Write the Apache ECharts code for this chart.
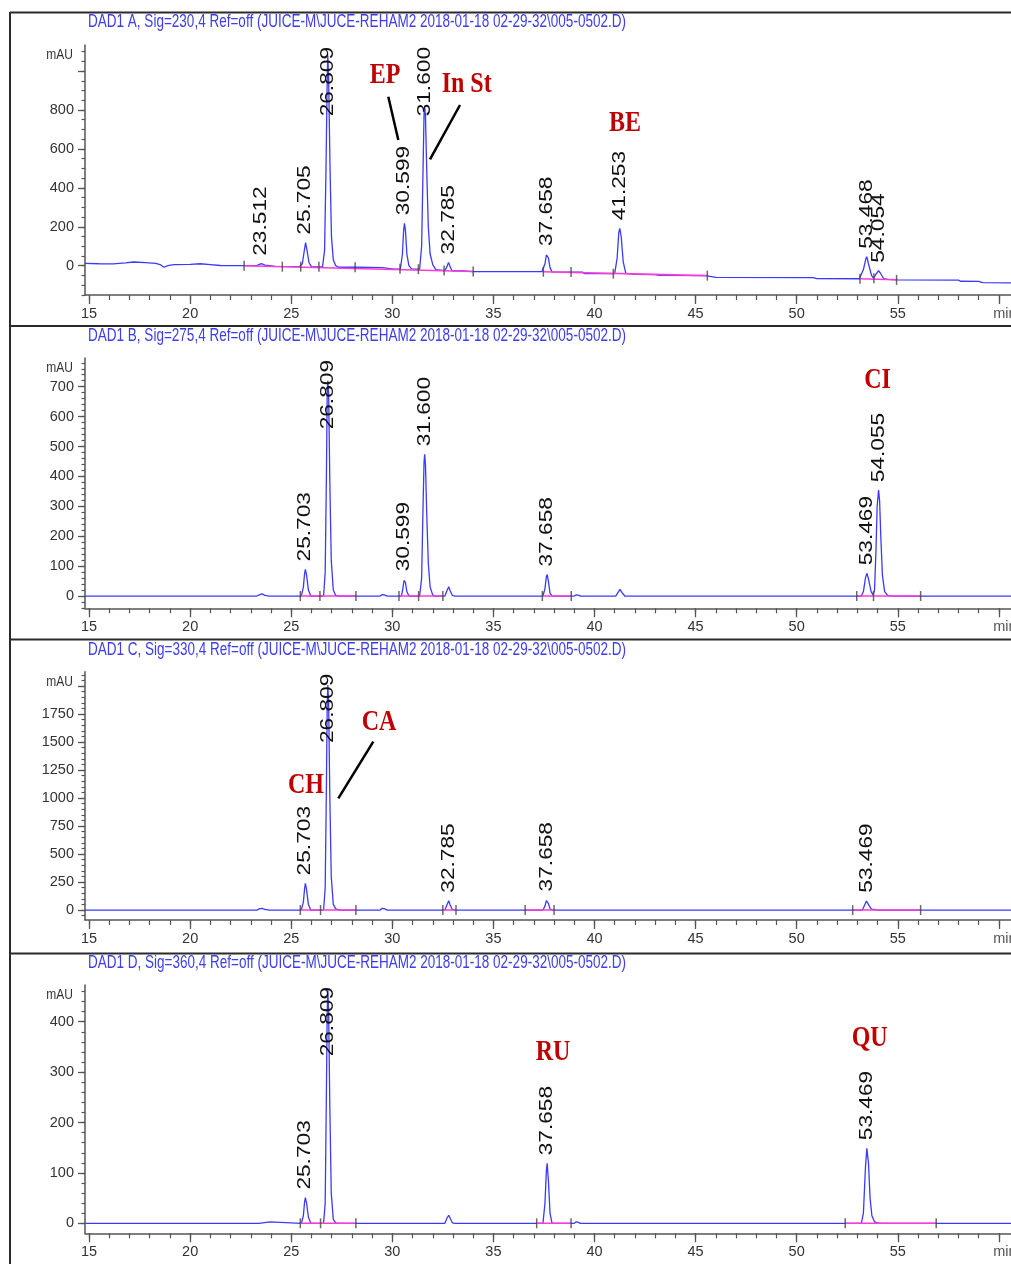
<!DOCTYPE html>
<html><head><meta charset="utf-8">
<script src="https://cdn.jsdelivr.net/npm/echarts@6/dist/echarts.min.js"></script>
<style>html,body{margin:0;padding:0;background:#fff;overflow:hidden}#c{width:1011px;height:1264px}</style>
</head><body><div id="c"></div>
<script>
// ---------------- DATA ----------------
const panelTitles = [
  'DAD1 A, Sig=230,4 Ref=off (JUICE-M\\JUCE-REHAM2 2018-01-18 02-29-32\\005-0502.D)',
  'DAD1 B, Sig=275,4 Ref=off (JUICE-M\\JUCE-REHAM2 2018-01-18 02-29-32\\005-0502.D)',
  'DAD1 C, Sig=330,4 Ref=off (JUICE-M\\JUCE-REHAM2 2018-01-18 02-29-32\\005-0502.D)',
  'DAD1 D, Sig=360,4 Ref=off (JUICE-M\\JUCE-REHAM2 2018-01-18 02-29-32\\005-0502.D)'
];
const xTickLabels = [15, 20, 25, 30, 35, 40, 45, 50, 55, 60];
const yLabelsA = [0, 200, 400, 600, 800];
const yLabelsB = [0, 100, 200, 300, 400, 500, 600, 700];
const yLabelsC = [0, 250, 500, 750, 1000, 1250, 1500, 1750];
const yLabelsD = [0, 100, 200, 300, 400];

// time (min), signal (mAU)
const traceA = [
  [14.8,12],[15.5,10],[16.2,9],[16.8,14],[17.2,19],[17.8,16],[18.3,12],[18.55,4],[18.7,-8],[18.9,0],[19.2,5],[20.0,7],[20.5,10],[21.0,6],[21.5,1],[22.5,0],
  [23.3,0],[23.45,8],[23.55,10],[23.7,3],[24.2,-4],[25.4,-5],
  [25.55,10],[25.65,80],[25.71,118],[25.78,80],[25.88,15],[26.0,-5],
  [26.55,-6],[26.65,80],[26.72,500],[26.78,960],[26.81,1080],[26.85,960],[26.92,500],[26.99,150],[27.08,30],[27.2,0],[27.35,-8],
  [28.2,-8],[29.5,-10],[30.1,-18],[30.4,-16],[30.5,60],[30.56,180],[30.6,218],[30.65,180],[30.72,60],[30.82,0],[30.95,-16],
  [31.35,-18],[31.45,100],[31.52,500],[31.57,780],[31.6,817],[31.64,770],[31.7,500],[31.78,200],[31.87,60],[32.0,5],[32.15,-20],
  [32.6,-25],[32.7,-5],[32.78,17],[32.86,-5],[32.95,-26],[33.5,-27],[34.0,-30],
  [37.4,-31],[37.55,10],[37.62,55],[37.66,60],[37.72,40],[37.8,-10],[37.9,-32],
  [39.4,-33],[39.5,-40],[41.0,-41],[41.12,40],[41.2,170],[41.25,192],[41.32,150],[41.42,20],[41.55,-40],
  [42.0,-44],[43.0,-46],[43.2,-50],[45.5,-51],[46.0,-60],[50.8,-61],[51.0,-66],[53.1,-67],
  [53.3,-20],[53.42,35],[53.47,46],[53.55,10],[53.7,-50],[53.8,-64],[53.95,-40],[54.05,-26],[54.15,-40],[54.3,-66],[54.5,-70],
  [55.0,-73],[58.0,-74],[58.1,-80],[59.0,-81],[59.2,-87],[60.6,-88]
];
const traceB = [
  [14.8,0],[23.3,0],[23.45,5],[23.55,7],[23.7,2],[23.9,0],
  [25.5,0],[25.6,30],[25.66,75],[25.7,89],[25.76,70],[25.85,20],[25.97,0],
  [26.6,0],[26.68,80],[26.74,400],[26.78,680],[26.81,720],[26.85,680],[26.91,380],[26.98,120],[27.08,20],[27.2,2],[27.35,0],
  [29.4,0],[29.5,5],[29.6,4],[29.75,0],
  [30.45,0],[30.52,25],[30.58,52],[30.6,56],[30.65,45],[30.72,15],[30.82,0],
  [31.35,0],[31.45,60],[31.52,300],[31.57,450],[31.6,474],[31.64,440],[31.7,280],[31.78,110],[31.87,30],[32.0,3],[32.1,0],
  [32.6,0],[32.7,18],[32.79,31],[32.86,18],[32.97,2],[33.1,0],
  [37.45,0],[37.55,25],[37.62,65],[37.66,72],[37.72,50],[37.8,10],[37.9,0],
  [39.0,0],[39.1,4],[39.2,3],[39.3,0],
  [41.05,0],[41.18,14],[41.26,22],[41.35,12],[41.5,0],
  [53.2,0],[53.3,15],[53.4,60],[53.47,76],[53.55,58],[53.68,15],[53.78,4],[53.85,20],[53.92,150],[53.98,300],[54.05,354],[54.1,320],[54.16,200],[54.24,70],[54.35,15],[54.5,2],[54.7,0],
  [60.6,0]
];
const traceC = [
  [14.8,0],[23.3,0],[23.45,12],[23.55,15],[23.7,5],[23.9,0],
  [25.5,0],[25.6,70],[25.66,190],[25.7,238],[25.76,180],[25.85,50],[25.97,0],
  [26.6,0],[26.68,200],[26.74,1100],[26.78,1850],[26.81,2010],[26.85,1850],[26.91,1000],[26.98,300],[27.08,50],[27.2,10],[27.4,0],
  [29.4,0],[29.5,15],[29.6,12],[29.75,0],
  [32.6,0],[32.7,45],[32.79,83],[32.86,45],[32.97,5],[33.1,0],
  [37.45,0],[37.55,35],[37.62,85],[37.66,95],[37.72,60],[37.8,10],[37.9,0],
  [39.05,0],[39.1,8],[39.2,0],
  [53.25,0],[53.35,40],[53.45,80],[53.5,83],[53.58,40],[53.7,8],[53.85,5],[54.0,0],
  [60.6,0]
];
const traceD = [
  [14.8,0],[23.4,0],[23.45,3],[23.95,3],[24.0,0],
  [25.5,0],[25.6,15],[25.66,42],[25.7,51],[25.76,40],[25.85,12],[25.97,0],
  [26.6,0],[26.68,40],[26.74,260],[26.78,420],[26.81,465],[26.85,420],[26.91,230],[26.98,60],[27.08,8],[27.2,1],[27.35,0],
  [32.6,0],[32.7,10],[32.79,16],[32.86,10],[32.97,1],[33.1,0],
  [37.45,0],[37.55,40],[37.62,105],[37.66,119],[37.72,85],[37.8,20],[37.9,0],
  [39.0,0],[39.1,3],[39.2,2],[39.3,0],
  [53.2,0],[53.3,20],[53.4,110],[53.47,149],[53.55,120],[53.63,50],[53.72,15],[53.85,3],[54.0,1],[54.2,0],
  [60.6,0]
];

// retention times printed above the peaks
const peakTimesA = ['23.512','25.705','26.809','30.599','31.600','32.785','37.658','41.253','53.468','54.054'];
const peakTimesB = ['25.703','26.809','30.599','31.600','37.658','53.469','54.055'];
const peakTimesC = ['25.703','26.809','32.785','37.658','53.469'];
const peakTimesD = ['25.703','26.809','37.658','53.469'];

// integration baselines (magenta)
const baselinesA = [[[22.67,0],[34.0,-30]], [[37.45,-31],[45.6,-51]], [[53.1,-67],[54.95,-72]]];
const baselinesB = [[[25.43,0],[28.2,0]], [[30.3,0],[32.5,0]], [[37.4,0],[38.85,0]], [[52.97,0],[56.13,0]]];
const baselinesC = [[[25.45,0],[28.2,0]], [[32.5,0],[33.15,0]], [[36.57,0],[38.0,0]], [[52.77,0],[56.13,0]]];
const baselinesD = [[[25.45,0],[28.2,0]], [[37.14,0],[38.84,0]], [[52.4,0],[56.9,0]]];

// integration event ticks
const markersA = [[22.67,0],[24.56,-5],[25.47,-5],[26.37,-6],[28.16,-8],[30.38,-16],[31.29,-18],[32.56,-25],[34.0,-30],[37.47,-31],[38.84,-33],[40.93,-41],[45.58,-51],[53.13,-67],[53.82,-64],[54.94,-73]];
const markersB = [[25.45,0],[26.42,0],[28.2,0],[30.33,0],[31.3,0],[32.5,0],[37.42,0],[38.85,0],[52.97,0],[53.8,0],[56.13,0]];
const markersC = [[25.45,0],[26.45,0],[28.2,0],[32.5,0],[33.15,0],[36.57,0],[38.0,0],[52.77,0],[56.13,0]];
const markersD = [[25.45,0],[26.45,0],[28.2,0],[37.14,0],[38.84,0],[52.4,0],[56.9,0]];

// compound annotations
const annotations = ['EP', 'In St', 'BE', 'CI', 'CH', 'CA', 'RU', 'QU'];

// ---------------- LAYOUT / STYLE ----------------
const XMIN = 14.8, XMAX = 60.6;
const STRETCH = 1.26;
const AXIS_FONT = '"Liberation Sans", Arial, sans-serif';
const AXIS_SIZE = 14.5;
const LABEL_FONT = '18px "Liberation Sans", Arial, sans-serif';
const TITLE_FONT = '14px "Liberation Sans", Arial, sans-serif';
const ANN_FONT = 'bold 24px "Liberation Serif", "Times New Roman", serif';
const ctx = document.createElement('canvas').getContext('2d');
function measure(text, font) { ctx.font = font; return ctx.measureText(text).width; }
function range(a, b, s) { const r = []; for (let v = a; v <= b + 1e-9; v += s) r.push(+v.toFixed(6)); return r; }

const panels = [
  {top:45,    height:250,   ymin:-150.6, ymax:1134,  minor:range(-150,1100,50), major:[0,200,400,600,800,1000], labels:yLabelsA, trace:traceA, peaks:peakTimesA, baselines:baselinesA, markers:markersA, titleY:22,    mauY:55},
  {top:358,   height:250.3, ymin:-41,    ymax:796,   minor:range(-40,780,20),   major:yLabelsB,                 labels:yLabelsB, trace:traceB, peaks:peakTimesB, baselines:baselinesB, markers:markersB, titleY:336,   mauY:368.3},
  {top:671.7, height:248.3, ymin:-89,    ymax:2128,  minor:range(-50,2100,50),  major:yLabelsC.concat([2000]),  labels:yLabelsC, trace:traceC, peaks:peakTimesC, baselines:baselinesC, markers:markersC, titleY:650,   mauY:681.7},
  {top:985,   height:248.3, ymin:-19.8,  ymax:472.8, minor:range(-20,460,20),   major:yLabelsD,                 labels:yLabelsD, trace:traceD, peaks:peakTimesD, baselines:baselinesD, markers:markersD, titleY:963.3, mauY:995}
];

const xMajor = xTickLabels;
const xMinor = range(15, 60, 1);
const axisColor = '#555';
const fmtX = v => (Math.abs(v - 60) < 1e-6 ? '{u|min}' : String(Math.round(v)));
const fmtY = v => String(Math.round(v));

const grid = [], xAxis = [], yAxis = [], series = [];
panels.forEach((p, i) => {
  grid.push({left:85, right:0, top:p.top, height:p.height, outerBoundsMode:'none', containLabel:false});
  xAxis.push({
    type:'value', gridIndex:i, position:'bottom', min:XMIN, max:XMAX,
    axisLine:{show:true, onZero:false, lineStyle:{color:axisColor, width:1.5}},
    axisTick:{show:true, customValues:xMajor, length:9, lineStyle:{color:axisColor, width:1.3}},
    axisLabel:{show:true, customValues:xTickLabels, formatter:fmtX, hideOverlap:false,
      fontFamily:AXIS_FONT, fontSize:AXIS_SIZE, color:'#333', margin:11,
      rich:{u:{fontFamily:AXIS_FONT, fontSize:AXIS_SIZE, color:'#555', padding:[0,0,0,12]}}},
    splitLine:{show:false}
  });
  xAxis.push({
    type:'value', gridIndex:i, position:'bottom', min:XMIN, max:XMAX,
    axisLine:{show:false, onZero:false},
    axisTick:{show:true, customValues:xMinor, length:5, lineStyle:{color:axisColor, width:1.2}},
    axisLabel:{show:false}, splitLine:{show:false}
  });
  yAxis.push({
    type:'value', gridIndex:i, position:'left', min:p.ymin, max:p.ymax,
    axisLine:{show:true, onZero:false, lineStyle:{color:axisColor, width:1.5}},
    axisTick:{show:true, customValues:p.major, length:7, lineStyle:{color:axisColor, width:1.3}},
    axisLabel:{show:true, customValues:p.labels, formatter:fmtY, fontFamily:AXIS_FONT, fontSize:AXIS_SIZE, color:'#333', margin:11},
    splitLine:{show:false}
  });
  yAxis.push({
    type:'value', gridIndex:i, position:'left', min:p.ymin, max:p.ymax,
    axisLine:{show:false, onZero:false},
    axisTick:{show:true, customValues:p.minor, length:3.5, lineStyle:{color:axisColor, width:1.2}},
    axisLabel:{show:false}, splitLine:{show:false}
  });
  const xi = 2 * i, yi = 2 * i;
  series.push({
    type:'line', name:'trace' + i, xAxisIndex:xi, yAxisIndex:yi, data:p.trace,
    symbol:'none', showSymbol:false, silent:true, z:3,
    lineStyle:{color:'#3a3aff', width:1.3}
  });
  p.baselines.forEach(seg => series.push({
    type:'line', xAxisIndex:xi, yAxisIndex:yi, data:seg, symbol:'none', silent:true, z:4,
    lineStyle:{color:'#ff3ad8', width:1.6}
  }));
  series.push({
    type:'scatter', xAxisIndex:xi, yAxisIndex:yi, data:p.markers, symbol:'rect',
    symbolSize:[1.5, 10], silent:true, z:5, itemStyle:{color:'#444'}
  });
  // peak labels: anchored at the apex of the trace near each retention time
  const labelData = p.peaks.map(s => {
    const t = parseFloat(s);
    let apex = -Infinity;
    p.trace.forEach(d => { if (Math.abs(d[0] - t) < 0.12 && d[1] > apex) apex = d[1]; });
    return [t, apex, s];
  });
  series.push({
    type:'custom', xAxisIndex:xi, yAxisIndex:yi, data:labelData, silent:true, z:6,
    encode:{x:0, y:1},
    renderItem:(params, api) => {
      const t = api.value(0), v = api.value(1);
      const txt = labelData[params.dataIndex][2];
      const pt = api.coord([t, v]);
      const len = measure(txt, LABEL_FONT) * STRETCH;
      const top = params.coordSys.y;
      const ay = Math.max(pt[1] - 8, top + 2 + len);
      return {type:'text', x:pt[0], y:ay, rotation:Math.PI / 2, scaleX:STRETCH, scaleY:1,
        style:{text:txt, font:LABEL_FONT, fill:'#111', align:'left', verticalAlign:'middle'}};
    }
  });
});

// frame, titles, mAU, annotations
const graphic = [];
const frameColor = '#2a2a2a';
graphic.push({type:'line', shape:{x1:10, y1:12.5, x2:1011, y2:12.5}, style:{stroke:frameColor, lineWidth:2}});
graphic.push({type:'line', shape:{x1:10, y1:12, x2:10, y2:1264}, style:{stroke:frameColor, lineWidth:2}});
[326, 639.5, 953.5].forEach(y => graphic.push({type:'line', shape:{x1:10, y1:y, x2:1011, y2:y}, style:{stroke:frameColor, lineWidth:2}}));
panels.forEach((p, i) => {
  const w = measure(panelTitles[i], TITLE_FONT);
  graphic.push({type:'text', x:88, y:p.titleY, scaleX:538 / w, scaleY:STRETCH,
    style:{text:panelTitles[i], font:TITLE_FONT, fill:'#3c3cf0', align:'left', verticalAlign:'middle'}});
  graphic.push({type:'text', x:73, y:p.mauY, scaleY:STRETCH,
    style:{text:'mAU', font:'12px "Liberation Sans", Arial, sans-serif', fill:'#333', align:'right', verticalAlign:'middle'}});
});
const annPos = [[385,75],[466.7,84],[625,123.5],[877.5,380],[306,785],[379,722],[553,1052.5],[869.7,1038]];
annotations.forEach((a, i) => graphic.push({type:'text', x:annPos[i][0], y:annPos[i][1], scaleY:STRETCH,
  style:{text:a, font:ANN_FONT, fill:'#c00000', align:'center', verticalAlign:'middle'}}));
[[388.3,96.7,398.3,140],[460,105,430,159.3],[373.3,741.7,338.3,798.3]].forEach(l =>
  graphic.push({type:'line', shape:{x1:l[0], y1:l[1], x2:l[2], y2:l[3]}, style:{stroke:'#000', lineWidth:2.5}}));

const chart = echarts.init(document.getElementById('c'), null, {renderer:'canvas'});
chart.setOption({animation:false, backgroundColor:'#fff', grid, xAxis, yAxis, series, graphic});
</script></body></html>
